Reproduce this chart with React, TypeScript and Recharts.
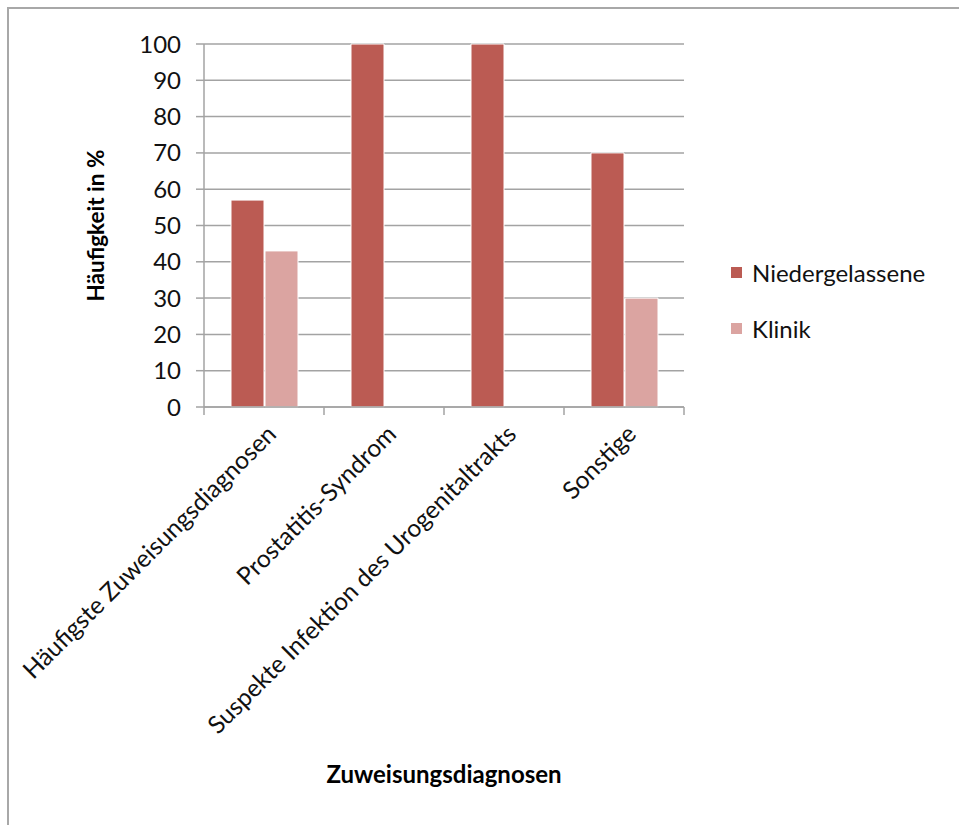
import { BarChart, Bar, XAxis, YAxis, CartesianGrid, Label } from "recharts";

const categories = [
  "Häufigste Zuweisungsdiagnosen",
  "Prostatitis-Syndrom",
  "Suspekte Infektion des Urogenitaltrakts",
  "Sonstige",
];
const niedergelassene = [57, 100, 100, 70];
const klinik = [43, 0, 0, 30];
const yTicks = [0, 10, 20, 30, 40, 50, 60, 70, 80, 90, 100];

const chartData = categories.map((name, i) => ({
  name,
  niedergelassene: niedergelassene[i],
  klinik: klinik[i],
}));

const FONT = "Lato, 'Open Sans', sans-serif";
const GRID = "#a3a3a3";
const RED = "#bb5b53";
const PINK = "#dba4a1";

const W = 959;
const H = 825;
const PLOT_LEFT = 204;
const PLOT_RIGHT = 684;
const PLOT_TOP = 44;
const PLOT_BOTTOM = 407;
const BAND = (PLOT_RIGHT - PLOT_LEFT) / categories.length;

const series = [
  { label: "Niedergelassene", color: RED },
  { label: "Klinik", color: PINK },
];

// rotated category label plus tick marks on the band edges
const CategoryTick = (props: any) => {
  const { x, y, payload, index } = props;
  const ax = x + 7;
  const ay = y + 14;
  const left = x - BAND / 2;
  return (
    <g>
      <line x1={left} y1={y - 8} x2={left} y2={y} stroke={GRID} strokeWidth={1.5} />
      {index === categories.length - 1 && (
        <line x1={x + BAND / 2} y1={y - 8} x2={x + BAND / 2} y2={y} stroke={GRID} strokeWidth={1.5} />
      )}
      <text
        x={ax}
        y={ay}
        transform={`rotate(-45 ${ax} ${ay})`}
        textAnchor="end"
        dominantBaseline="central"
        fontFamily={FONT}
        fontSize={24.5}
        fill="#111"
      >
        {payload.value}
      </text>
    </g>
  );
};

const YTitle = (props: any) => {
  const { viewBox } = props;
  const cx = viewBox.x - 49;
  const cy = viewBox.y + viewBox.height / 2;
  return (
    <text
      x={cx}
      y={cy}
      transform={`rotate(-90 ${cx} ${cy})`}
      textAnchor="middle"
      dominantBaseline="central"
      fontFamily={FONT}
      fontWeight="bold"
      fontSize={22.5}
      fill="#000"
    >
      Häufigkeit in %
    </text>
  );
};

export default function App() {
  return (
    <div style={{ position: "absolute", left: 0, top: 0, width: W, height: H, background: "#fff" }}>
      <div
        style={{
          position: "absolute",
          left: 7,
          top: 7,
          width: W,
          height: H,
          borderLeft: "2px solid #a8a8a8",
          borderTop: "2px solid #a8a8a8",
        }}
      />
      <BarChart
        width={W}
        height={H}
        data={chartData}
        margin={{ top: PLOT_TOP, right: W - PLOT_RIGHT, bottom: 0, left: PLOT_LEFT - 60 }}
        barCategoryGap="22.5%"
        barGap={1}
        style={{ position: "absolute", left: 0, top: 0 }}
      >
        <CartesianGrid vertical={false} stroke={GRID} strokeWidth={1.5} />
        <XAxis
          dataKey="name"
          height={H - PLOT_BOTTOM}
          axisLine={{ stroke: GRID, strokeWidth: 1.5 }}
          tickLine={false}
          tick={<CategoryTick />}
          interval={0}
        >
          <Label
            value="Zuweisungsdiagnosen"
            position="insideBottom"
            offset={42}
            fontFamily={FONT}
            fontWeight="bold"
            fontSize={24}
            fill="#000"
          />
        </XAxis>
        <YAxis
          width={60}
          domain={[0, 100]}
          ticks={yTicks}
          interval={0}
          axisLine={{ stroke: GRID, strokeWidth: 1.5 }}
          tickLine={{ stroke: GRID, strokeWidth: 1.5 }}
          tickSize={8}
          tickMargin={15}
          tick={{ fontFamily: FONT, fontSize: 24, fill: "#111" }}
        >
          <Label content={<YTitle />} />
        </YAxis>
        <Bar dataKey="niedergelassene" name="Niedergelassene" fill={RED} stroke="#fff" strokeWidth={1} isAnimationActive={false} />
        <Bar dataKey="klinik" name="Klinik" fill={PINK} stroke="#fff" strokeWidth={1} isAnimationActive={false} />
      </BarChart>
      <div
        style={{
          position: "absolute",
          left: 731,
          top: 258,
          fontFamily: FONT,
          fontSize: 24,
          color: "#111",
        }}
      >
        {series.map((item) => (
          <div key={item.label} style={{ display: "flex", alignItems: "center", height: 28, marginBottom: 28 }}>
            <div style={{ width: 11, height: 11, background: item.color, marginRight: 10 }} />
            <span>{item.label}</span>
          </div>
        ))}
      </div>
    </div>
  );
}
